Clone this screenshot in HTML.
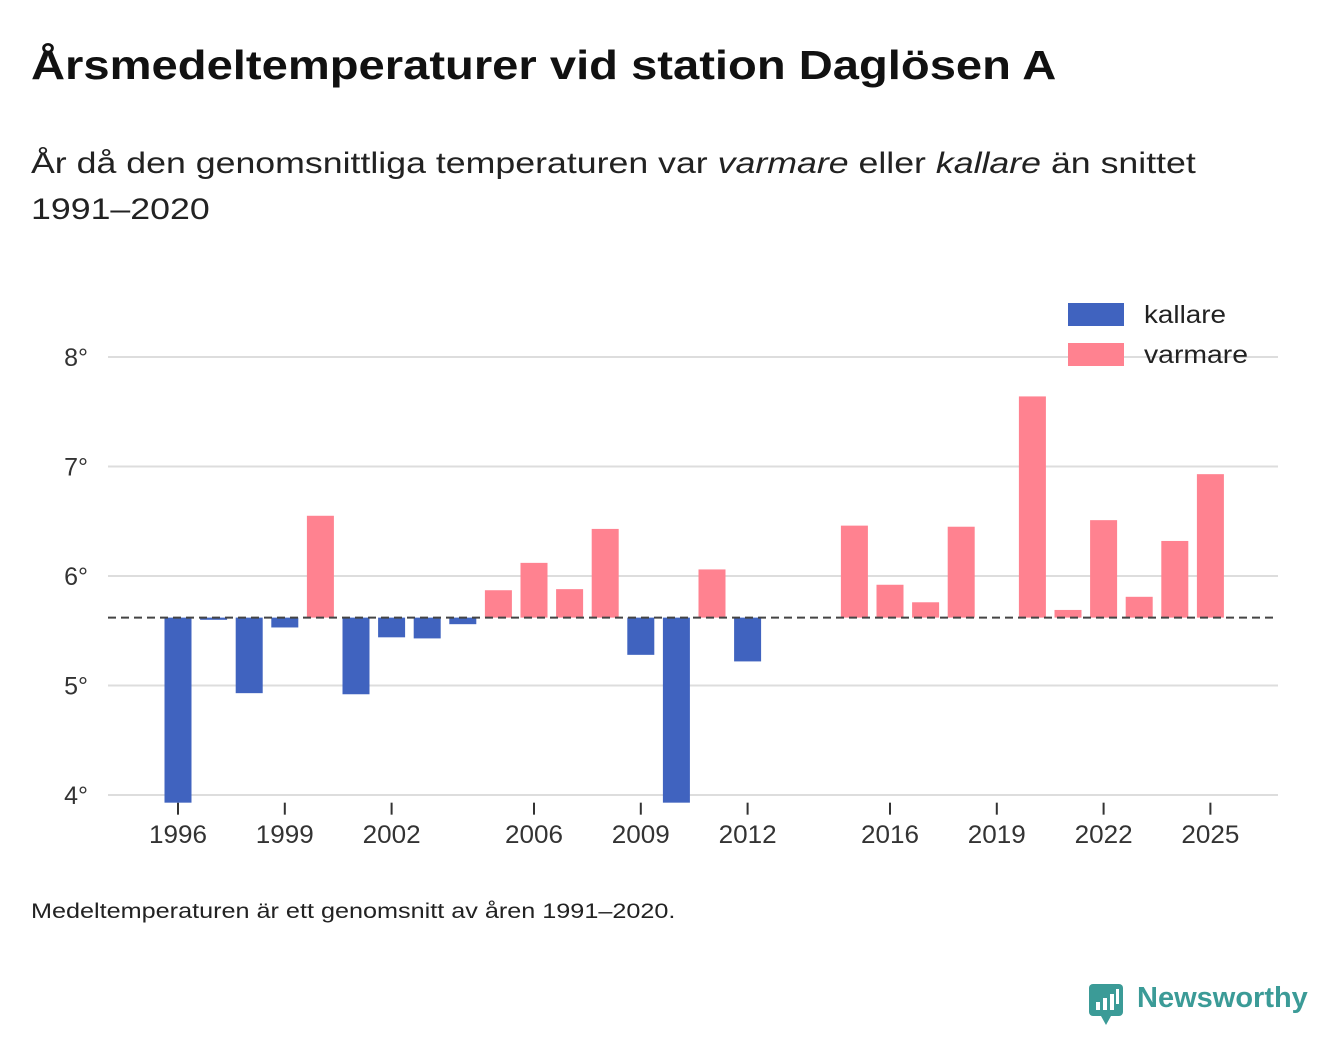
<!DOCTYPE html>
<html><head><meta charset="utf-8">
<style>
body{margin:0;background:#fff;width:1340px;height:1056px;overflow:hidden;font-family:"Liberation Sans",sans-serif;color:#111;}
.t{position:absolute;left:31px;top:42px;font-size:41px;font-weight:bold;transform:scaleX(1.15);transform-origin:0 0;white-space:nowrap;}
.s{position:absolute;left:31px;top:141px;font-size:30px;line-height:46px;width:1100px;color:#222;transform:scaleX(1.19);transform-origin:0 0;}
.f{position:absolute;left:31px;top:900px;font-size:21px;color:#222;transform:scaleX(1.2);transform-origin:0 0;white-space:nowrap;}
</style></head><body>
<div class="t">Årsmedeltemperaturer vid station Daglösen A</div>
<div class="s">År då den genomsnittliga temperaturen var <i>varmare</i> eller <i>kallare</i> än snittet<br>1991–2020</div>
<div class="f">Medeltemperaturen är ett genomsnitt av åren 1991–2020.</div>
<svg id="c" width="1340" height="1056" style="position:absolute;left:0;top:0"></svg>
<div style="position:absolute;left:1089px;top:984px;">
<svg width="36" height="42" style="position:absolute;left:0;top:0"><rect x="0" y="0" width="34" height="32" rx="4" fill="#3b9b97"/><polygon points="12,32 22,32 17,41" fill="#3b9b97"/><rect x="7" y="18" width="4" height="8" fill="#fff"/><rect x="14" y="14" width="4" height="12" fill="#fff"/><rect x="21" y="10" width="4" height="16" fill="#fff"/><rect x="27" y="5" width="3" height="15" fill="#fff"/></svg>
<span style="position:absolute;left:48px;top:-2px;font-size:29px;font-weight:bold;color:#3b9b97;">Newsworthy</span></div>
<script>
const years=[1996,1997,1998,1999,2000,2001,2002,2003,2004,2005,2006,2007,2008,2009,2010,2011,2012,2015,2016,2017,2018,2020,2021,2022,2023,2024,2025];
const temps=[3.93,5.60,4.93,5.53,6.55,4.92,5.44,5.43,5.56,5.87,6.12,5.88,6.43,5.28,3.93,6.06,5.22,6.46,5.92,5.76,6.45,7.64,5.69,6.51,5.81,6.32,6.93];
const avg=5.62;
const yTicks=[4,5,6,7,8];
const xTicks=[1996,1999,2002,2006,2009,2012,2016,2019,2022,2025];
const NS="http://www.w3.org/2000/svg",svg=document.getElementById('c');
const x=v=>178+(v-1996)*35.6;
const y=v=>357+(8-v)*109.5;
const yMin=3.93;
function el(t,a,p){const e=document.createElementNS(NS,t);for(const k in a)e.setAttribute(k,a[k]);(p||svg).appendChild(e);return e;}
yTicks.forEach(v=>{
 const g=el('line',{x1:108,x2:1278,y1:y(v),y2:y(v),stroke:'#ddd','stroke-width':2});
 
 
 const t=el('text',{x:88,y:y(v)+9,'text-anchor':'end','font-size':25,fill:'#333','font-family':'Liberation Sans'});t.textContent=v+'°';
 
 
});
xTicks.forEach(v=>{
 const l=el('line',{x1:x(v),x2:x(v),y1:y(yMin),y2:y(yMin)+12,stroke:'#333','stroke-width':2});
 
 
 const t=el('text',{x:x(v),y:843,'text-anchor':'middle','font-size':25,fill:'#333','font-family':'Liberation Sans',textLength:58,lengthAdjust:'spacingAndGlyphs'});t.textContent=v;
 
 
});
years.forEach((yr,i)=>{
 const v=Math.max(temps[i],yMin);
 const top=y(Math.max(v,avg)),bot=y(Math.min(v,avg));
 const r=el('rect',{x:x(yr)-13.5,y:top,width:27,height:Math.max(bot-top,1),fill:temps[i]>=avg?'#ff8290':'#4063bf'});
 
 
});
const d=el('line',{x1:108,x2:1278,y1:y(avg),y2:y(avg),stroke:'#444','stroke-width':2,'stroke-dasharray':'8,5'});


[['kallare','#4063bf',303,82],['varmare','#ff8290',343,104]].forEach(([n,c,yy,w])=>{
 const r=el('rect',{x:1068,y:yy,width:56,height:23,fill:c});
 
 
 const t=el('text',{x:1144,y:yy+20,'font-size':25,fill:'#222','font-family':'Liberation Sans',textLength:w,lengthAdjust:'spacingAndGlyphs'});t.textContent=n;
 
 
});
</script>
</body></html>
